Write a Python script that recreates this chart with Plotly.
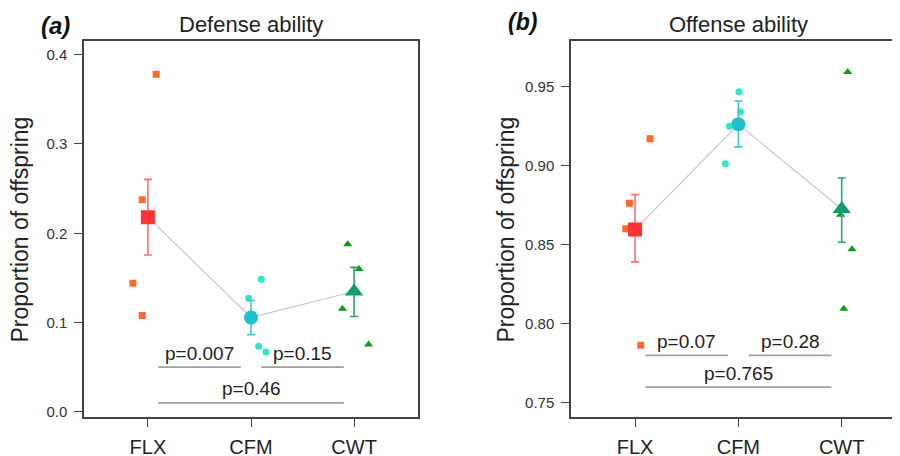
import plotly.graph_objects as go

categories = ["FLX", "CFM", "CWT"]

# Defense ability (a)
def_raw = {
    "FLX": [0.378, 0.2376, 0.144, 0.108],
    "CFM": [0.1484, 0.1272, 0.0733, 0.067],
    "CWT": [0.1878, 0.160, 0.1154, 0.0753],
}
def_jitter = {
    "FLX": [0.08, -0.055, -0.146, -0.055],
    "CFM": [0.10, -0.023, 0.074, 0.145],
    "CWT": [-0.062, 0.048, -0.113, 0.14],
}
def_mean = [0.218, 0.1057, 0.1347]
def_upper = [0.2603, 0.1246, 0.1618]
def_lower = [0.1756, 0.0864, 0.1068]
def_pvals = ["p=0.007", "p=0.15", "p=0.46"]
def_pairs = [(1, 2), (2, 3), (1, 3)]
def_pheights = [0.05, 0.05, 0.01]
def_ticks = [0.0, 0.1, 0.2, 0.3, 0.4]
def_ticktext = ["0.0", "0.1", "0.2", "0.3", "0.4"]

# Offense ability (b)
off_raw = {
    "FLX": [0.917, 0.8762, 0.8602, 0.7864],
    "CFM": [0.9468, 0.934, 0.925, 0.9012],
    "CWT": [0.9592, 0.8689, 0.8472, 0.8096],
}
off_jitter = {
    "FLX": [0.145, -0.055, -0.09, 0.055],
    "CFM": [0.006, 0.02, -0.087, -0.126],
    "CWT": [0.058, -0.01, 0.10, 0.02],
}
off_mean = [0.8596, 0.9262, 0.8726]
off_upper = [0.8817, 0.9409, 0.8922]
off_lower = [0.8392, 0.9119, 0.8516]
off_pvals = ["p=0.07", "p=0.28", "p=0.765"]
off_pairs = [(1, 2), (2, 3), (1, 3)]
off_pheights = [0.78, 0.78, 0.76]
off_ticks = [0.75, 0.80, 0.85, 0.90, 0.95]
off_ticktext = ["0.75", "0.80", "0.85", "0.90", "0.95"]

# styles
raw_color = {"FLX": "#FF6A2A", "CFM": "#2FE8CC", "CWT": "#129A1E"}
mean_color = {"FLX": "#FF3236", "CFM": "#1FBFCB", "CWT": "#149A6C"}
err_color = {"FLX": "#FF6B6E", "CFM": "#3CC8D0", "CWT": "#28A47A"}
raw_symbol = {"FLX": "square", "CFM": "circle", "CWT": "triangle-up"}
raw_size = {"FLX": 7, "CFM": 7, "CWT": 8}
mean_size = {"FLX": 14, "CFM": 14, "CWT": 16}

FONT = "Liberation Sans, Arial, sans-serif"
W, H = 900, 456
OFF = 8  # page body margin

fig = go.Figure()

def add_panel(raw, jitter, mean, upper, lower, xa, ya):
    xs = [i + 1 for i in range(len(categories))]
    fig.add_trace(go.Scatter(x=xs, y=mean, mode="lines",
                             line=dict(color="#C8C8C8", width=1.2),
                             xaxis=xa, yaxis=ya, showlegend=False, hoverinfo="skip"))
    for i, c in enumerate(categories):
        fig.add_trace(go.Scatter(
            x=[i + 1 + j for j in jitter[c]], y=raw[c], mode="markers",
            marker=dict(symbol=raw_symbol[c], size=raw_size[c], color=raw_color[c]),
            xaxis=xa, yaxis=ya, showlegend=False))
    for i, c in enumerate(categories):
        fig.add_trace(go.Scatter(
            x=[i + 1], y=[mean[i]], mode="markers",
            marker=dict(symbol=raw_symbol[c], size=mean_size[c], color=mean_color[c]),
            error_y=dict(type="data", symmetric=False,
                         array=[upper[i] - mean[i]], arrayminus=[mean[i] - lower[i]],
                         color=err_color[c], thickness=1.6, width=4),
            xaxis=xa, yaxis=ya, showlegend=False))

add_panel(def_raw, def_jitter, def_mean, def_upper, def_lower, "x", "y")
add_panel(off_raw, off_jitter, off_mean, off_upper, off_lower, "x2", "y2")

shapes = []
annotations = []
def add_pvals(pvals, pairs, heights, xr, yr):
    for p, (a, b), h in zip(pvals, pairs, heights):
        shapes.append(dict(type="line", xref=xr, yref=yr, x0=a + 0.1, x1=b - 0.1,
                           y0=h, y1=h, line=dict(color="#A0A0A0", width=1.8)))
        annotations.append(dict(xref=xr, yref=yr, x=(a + b) / 2, y=h, text=p,
                                showarrow=False, xanchor="center", yanchor="middle",
                                yshift=14,
                                font=dict(family=FONT, size=19, color="#222")))

add_pvals(def_pvals, def_pairs, def_pheights, "x", "y")
add_pvals(off_pvals, off_pairs, off_pheights, "x2", "y2")

def px(xp):
    return (xp - OFF) / W
def py(yp):
    return 1 - (yp - OFF) / H

def lab(x, y, text, size, color="#222", angle=0):
    return dict(xref="paper", yref="paper", x=px(x), y=py(y), text=text,
                showarrow=False, xanchor="center", yanchor="middle", textangle=angle,
                font=dict(family=FONT, size=size, color=color))

annotations += [
    lab(55, 26, "<b><i>(a)</i></b>", 24, "#111"),
    lab(251, 25, "Defense ability", 22),
    lab(522, 22, "<b><i>(b)</i></b>", 23, "#111"),
    lab(738, 25, "Offense ability", 22),
    lab(20, 231, "Proportion of offspring", 23, angle=-90),
    lab(506, 231, "Proportion of offspring", 23, angle=-90),
]

axis_common = dict(showgrid=False, zeroline=False, showline=True, linecolor="#444",
                   linewidth=1.5, ticks="outside", ticklen=8, tickcolor="#444",
                   tickwidth=1.2)

right_page = W + OFF
x2max = 3 + (right_page - 841.7) / 103.3

fig.update_layout(
    width=W, height=H, margin=dict(l=0, r=0, t=0, b=0),
    paper_bgcolor="white", plot_bgcolor="white",
    shapes=shapes, annotations=annotations,
    xaxis=dict(domain=[px(84), px(418)], range=[0.38, 3.62], anchor="y",
               tickvals=[1, 2, 3], ticktext=categories, mirror=True,
               ticklabelstandoff=3,
               tickfont=dict(family=FONT, size=20, color="#222"), **axis_common),
    yaxis=dict(domain=[py(419.5), py(41)], range=[-0.0056, 0.4156], anchor="x",
               tickvals=def_ticks, ticktext=def_ticktext, mirror=True,
               ticklabelstandoff=4,
               tickfont=dict(family=FONT, size=15, color="#333"), **axis_common),
    xaxis2=dict(domain=[px(571), 1.0], range=[0.38, x2max], anchor="y2",
                tickvals=[1, 2, 3], ticktext=categories, mirror=True,
                ticklabelstandoff=3,
                tickfont=dict(family=FONT, size=20, color="#222"), **axis_common),
    yaxis2=dict(domain=[py(419.5), py(41)], range=[0.7412, 0.979], anchor="x2",
                tickvals=off_ticks, ticktext=off_ticktext, mirror=False,
                ticklabelstandoff=4,
                tickfont=dict(family=FONT, size=15, color="#333"), **axis_common),
)

fig.write_html("out.html")
